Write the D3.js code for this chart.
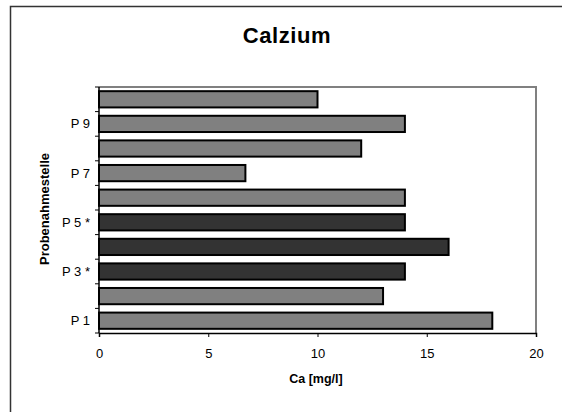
<!DOCTYPE html>
<html><head><meta charset="utf-8">
<script src="https://cdn.jsdelivr.net/npm/d3@7"></script>
<style>body{margin:0;background:#fff}svg{display:block;font-family:"Liberation Sans",Arial,sans-serif}</style>
</head><body><svg id="c" width="562" height="412"></svg>
<script>
const categories = ["P 1","P 2","P 3 *","P 4","P 5 *","P 6","P 7","P 8","P 9","P 10"];
const tickLabels = ["P 1","","P 3 *","","P 5 *","","P 7","","P 9",""];
const values = [18, 13, 14, 16, 14, 14, 6.7, 12, 14, 10];
const highlighted = [false, false, true, true, true, false, false, false, false, false];
const xTicks = [0, 5, 10, 15, 20];

const svg = d3.select("#c");
const L = 99, R = 536, T = 87, B = 333;
svg.append("rect").attr("x",10.5).attr("y",6.5).attr("width",600).attr("height",450)
  .attr("fill","#fff").attr("stroke","#333").attr("stroke-width",1.5);
svg.append("text").attr("x",287).attr("y",43).attr("text-anchor","middle")
  .attr("font-size",22).attr("font-weight","bold").attr("letter-spacing",0.6).text("Calzium");

const x = d3.scaleLinear().domain([0,20]).range([L,R]);
const y = d3.scaleBand().domain(categories).range([B,T]).paddingInner(0.34).paddingOuter(0.17);
const yb = d3.scaleBand().domain(categories).range([B,T]);

// plot border
svg.append("path").attr("d",`M${L},${T}H${R}V${B}`).attr("fill","none").attr("stroke","#808080").attr("stroke-width",2);

svg.append("g").selectAll("rect").data(values).join("rect")
  .attr("x", x(0)).attr("y",(d,i)=>y(categories[i]))
  .attr("width",d=>x(d)-x(0)).attr("height",y.bandwidth())
  .attr("fill",(d,i)=>highlighted[i]?"#333333":"#808080")
  .attr("stroke","#000").attr("stroke-width",2);

// y axis
const ya = svg.append("g");
ya.append("line").attr("x1",L).attr("x2",L).attr("y1",T).attr("y2",B).attr("stroke","#000").attr("stroke-width",1.5);
const bounds = d3.range(categories.length+1).map(i => B - i*yb.step());
ya.selectAll(".t").data(bounds).join("line").attr("x1",L-4).attr("x2",L).attr("y1",d=>d).attr("y2",d=>d).attr("stroke","#000");
ya.selectAll("text").data(categories).join("text")
  .attr("x",L-9).attr("y",d=>yb(d)+yb.bandwidth()/2+4.5).attr("text-anchor","end")
  .attr("font-size",13).text((d,i)=>tickLabels[i]);

// x axis
const xa = svg.append("g").attr("transform",`translate(0,${B})`)
  .call(d3.axisBottom(x).tickValues(xTicks).tickSize(4).tickPadding(12).tickFormat(d3.format("d")));
xa.select(".domain").attr("stroke","#000").attr("stroke-width",1.5);
xa.selectAll("text").attr("font-size",13).attr("font-family","Liberation Sans, Arial, sans-serif").attr("fill","#000");

svg.append("text").attr("x",316).attr("y",383).attr("text-anchor","middle")
  .attr("font-size",12.5).attr("font-weight","bold").text("Ca [mg/l]");
svg.append("text").attr("transform","translate(49,209) rotate(-90)").attr("text-anchor","middle")
  .attr("font-size",13).attr("font-weight","bold").text("Probenahmestelle");
</script></body></html>
